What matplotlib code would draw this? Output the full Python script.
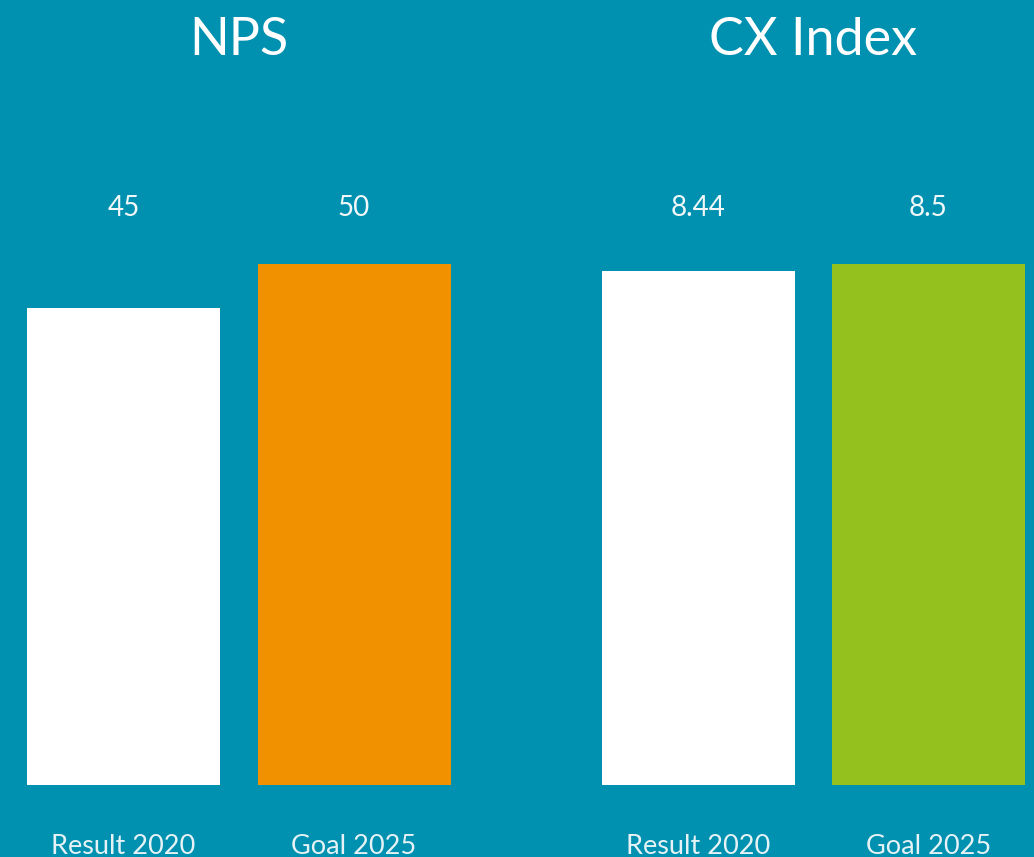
import matplotlib
matplotlib.use("Agg")
import matplotlib.pyplot as plt
from matplotlib.transforms import blended_transform_factory

# ---- data ----
categories = ["Result 2020", "Goal 2025"]
nps_values = [45, 50]
nps_labels = ["45", "50"]
cx_values = [8.44, 8.5]
cx_labels = ["8.44", "8.5"]
titles = ["NPS", "CX Index"]

BG = "#0091B0"
nps_colors = ["#FFFFFF", "#F29100"]
cx_colors = ["#FFFFFF", "#95C11F"]

W, H = 1034, 857
fig = plt.figure(figsize=(W / 100, H / 100), dpi=100, facecolor=BG)
plt.rcParams["font.family"] = ["Lato", "DejaVu Sans"]

slot = 230.5          # px per category
bar_w = 193 / slot
bottom_px, top_px = 785, 264

def make_axes(left_px, right_px, xmin):
    ax = fig.add_axes([left_px / W, 1 - bottom_px / H,
                       (right_px - left_px) / W, (bottom_px - top_px) / H])
    ax.set_facecolor(BG)
    ax.set_xlim(xmin, xmin + (right_px - left_px) / slot)
    for s in ax.spines.values():
        s.set_visible(False)
    ax.set_xticks([])
    ax.set_yticks([])
    return ax

ax1 = make_axes(8.25, 469.25, -0.5)
ax2 = make_axes(582.75, 1034, -0.5)

groups = [
    (ax1, nps_values, nps_labels, nps_colors, -9.2, titles[0]),
    (ax2, cx_values, cx_labels, cx_colors, 3.95, titles[1]),
]

for ax, vals, labs, cols, base, title in groups:
    xs = list(range(len(vals)))
    heights = [v - base for v in vals]
    ax.bar(xs, heights, bottom=base, width=bar_w, color=cols, linewidth=0)
    ax.set_ylim(base, max(vals))
    tr = blended_transform_factory(ax.transData, fig.transFigure)
    for x, lab, cat in zip(xs, labs, categories):
        ax.text(x, 1 - 216 / H, lab, transform=tr, ha="center", va="baseline",
                color="#F2F8FA", fontsize=20, fontweight="normal", clip_on=False)
        ax.text(x, 1 - 854 / H, cat, transform=tr, ha="center", va="baseline",
                color="#E6F2F5", fontsize=19.5, fontweight="normal", clip_on=False)
    ax.text(0.5, 1 - 55 / H, title, transform=tr,
            ha="center", va="baseline", color="#FFFFFF", fontsize=37.5,
            fontweight="normal", clip_on=False)

fig.savefig("out.png", dpi=100, facecolor=BG)
